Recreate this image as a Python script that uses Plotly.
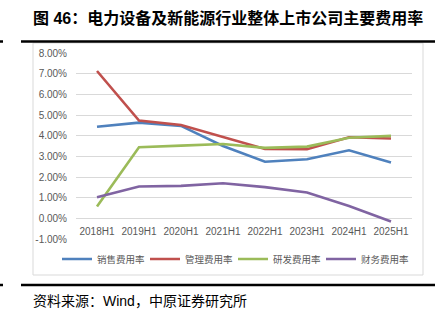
import plotly.graph_objects as go

categories = ["2018H1", "2019H1", "2020H1", "2021H1", "2022H1", "2023H1", "2024H1", "2025H1"]
sales = [4.43, 4.63, 4.47, 3.50, 2.74, 2.86, 3.29, 2.70]
admin = [7.13, 4.73, 4.52, 3.95, 3.36, 3.34, 3.92, 3.86]
rnd = [0.57, 3.44, 3.52, 3.60, 3.41, 3.47, 3.90, 3.99]
finance = [1.02, 1.54, 1.57, 1.70, 1.51, 1.25, 0.60, -0.15]
series_names = ["销售费用率", "管理费用率", "研发费用率", "财务费用率"]
colors = ["#4F81BD", "#C0504D", "#9BBB59", "#8064A2"]
y_ticks = [-1, 0, 1, 2, 3, 4, 5, 6, 7, 8]
y_ticktext = [f"{v:.2f}%" for v in y_ticks]

W, H = 448, 324
L, R, T, B = 76, 36, 53, 85
pw, ph = W - L - R, H - T - B

def px(x):
    return (x - L) / pw

def py(y):
    return (H - B - y) / ph

FONT = "Liberation Sans, Arial, Noto Sans CJK SC"

fig = go.Figure()
for name, vals, c in zip(series_names, [sales, admin, rnd, finance], colors):
    fig.add_trace(go.Scatter(x=categories, y=vals, name=name, mode="lines",
                             line=dict(color=c, width=2.6)))

shapes = [
    dict(type="rect", xref="paper", yref="paper", x0=px(33), x1=px(423), y0=py(275), y1=py(43),
         line=dict(color="#D9D9D9", width=1), fillcolor="rgba(0,0,0,0)", layer="below"),
    dict(type="line", xref="paper", yref="paper", x0=px(21), x1=px(435), y0=py(41.5), y1=py(41.5),
         line=dict(color="#000000", width=2.5)),
    dict(type="line", xref="paper", yref="paper", x0=px(0), x1=px(3), y0=py(41.5), y1=py(41.5),
         line=dict(color="#000000", width=2.5)),
    dict(type="line", xref="paper", yref="paper", x0=px(21), x1=px(435), y0=py(285), y1=py(285),
         line=dict(color="#000000", width=2.5)),
    dict(type="line", xref="paper", yref="paper", x0=px(0), x1=px(3), y0=py(285), y1=py(285),
         line=dict(color="#000000", width=2.5)),
]

annotations = [
    dict(text="<b>图 46：电力设备及新能源行业整体上市公司主要费用率</b>", xref="paper", yref="paper",
         x=px(31), y=py(18), xanchor="left", yanchor="middle", showarrow=False,
         font=dict(family=FONT, size=16, color="#000000")),
    dict(text="资料来源：Wind，中原证券研究所", xref="paper", yref="paper",
         x=px(31), y=py(301), xanchor="left", yanchor="middle", showarrow=False,
         font=dict(family=FONT, size=14, color="#000000")),
]

fig.update_layout(
    width=W, height=H,
    margin=dict(l=L, r=R, t=T, b=B, pad=0),
    paper_bgcolor="white", plot_bgcolor="white",
    font=dict(family=FONT, size=10, color="#595959"),
    showlegend=True,
    legend=dict(orientation="h", x=px(57), xanchor="left", y=py(259), yanchor="middle",
                font=dict(size=9.5, color="#595959"), entrywidth=43, entrywidthmode="pixels",
                bgcolor="rgba(0,0,0,0)"),
    shapes=shapes,
    annotations=annotations,
    xaxis=dict(type="category", range=[-0.5, 7.5], showgrid=False, showline=False, ticks="",
               zeroline=False, anchor="free", position=1 / 9, ticklabelstandoff=6,
               tickfont=dict(size=10, color="#595959")),
    yaxis=dict(range=[-1, 8], tickvals=y_ticks, ticktext=y_ticktext,
               showgrid=True, gridcolor="#D9D9D9", gridwidth=1, zeroline=True,
               zerolinecolor="#D9D9D9", zerolinewidth=1, showline=False, ticks="",
               ticklabelstandoff=8, tickfont=dict(size=10, color="#595959")),
)

fig.write_html("out.html")
